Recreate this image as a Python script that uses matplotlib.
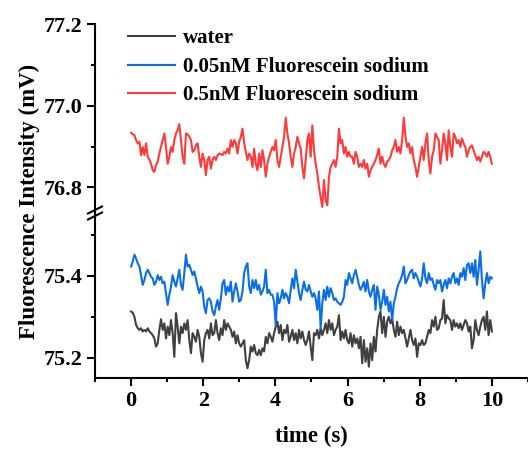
import numpy as np
import matplotlib
matplotlib.use("Agg")
import matplotlib.pyplot as plt
from matplotlib.lines import Line2D
from matplotlib.ticker import MultipleLocator, FormatStrFormatter

plt.rcParams['font.family'] = ['Liberation Serif', 'DejaVu Serif']
plt.rcParams['font.weight'] = 'bold'

water = [
    75.313, 75.310, 75.300, 75.280, 75.272, 75.268, 75.272, 75.264, 75.268, 75.264,
    75.272, 75.264, 75.260, 75.255, 75.247, 75.227, 75.235, 75.268, 75.294, 75.268,
    75.284, 75.247, 75.276, 75.255, 75.292, 75.260, 75.202, 75.309, 75.276, 75.235,
    75.276, 75.260, 75.284, 75.268, 75.292, 75.243, 75.211, 75.260, 75.251, 75.239,
    75.268, 75.251, 75.211, 75.190, 75.243, 75.260, 75.268, 75.247, 75.284, 75.255,
    75.260, 75.292, 75.260, 75.243, 75.272, 75.255, 75.292, 75.268, 75.284, 75.276,
    75.268, 75.251, 75.264, 75.235, 75.255, 75.235, 75.227, 75.235, 75.243, 75.194,
    75.174, 75.194, 75.227, 75.215, 75.231, 75.211, 75.206, 75.219, 75.206, 75.223,
    75.215, 75.251, 75.235, 75.260, 75.251, 75.239, 75.260, 75.276, 75.288, 75.260,
    75.280, 75.243, 75.268, 75.260, 75.280, 75.239, 75.251, 75.268, 75.243, 75.260,
    75.235, 75.268, 75.247, 75.264, 75.243, 75.231, 75.243, 75.264, 75.227, 75.194,
    75.260, 75.255, 75.268, 75.247, 75.272, 75.255, 75.268, 75.284, 75.260, 75.292,
    75.268, 75.284, 75.255, 75.268, 75.276, 75.304, 75.243, 75.264, 75.247, 75.268,
    75.243, 75.235, 75.260, 75.227, 75.255, 75.235, 75.247, 75.223, 75.251, 75.186,
    75.243, 75.190, 75.223, 75.178, 75.235, 75.194, 75.251, 75.215, 75.268, 75.300,
    75.313, 75.260, 75.300, 75.251, 75.288, 75.300, 75.284, 75.296, 75.268, 75.251,
    75.288, 75.255, 75.276, 75.260, 75.268, 75.247, 75.227, 75.247, 75.268, 75.243,
    75.231, 75.247, 75.202, 75.235, 75.231, 75.243, 75.231, 75.235, 75.251, 75.268,
    75.260, 75.292, 75.276, 75.300, 75.268, 75.272, 75.292, 75.296, 75.341, 75.284,
    75.304, 75.296, 75.292, 75.268, 75.292, 75.276, 75.284, 75.272, 75.284, 75.268,
    75.280, 75.292, 75.284, 75.264, 75.276, 75.223, 75.243, 75.292, 75.268, 75.255,
    75.276, 75.292, 75.300, 75.268, 75.313, 75.255, 75.292, 75.264,
]

fs_005 = [
    75.423, 75.435, 75.452, 75.443, 75.431, 75.423, 75.402, 75.378, 75.390, 75.407,
    75.415, 75.407, 75.398, 75.394, 75.378, 75.386, 75.402, 75.390, 75.398, 75.382,
    75.386, 75.358, 75.329, 75.354, 75.374, 75.402, 75.386, 75.374, 75.394, 75.415,
    75.378, 75.366, 75.407, 75.452, 75.423, 75.427, 75.415, 75.402, 75.411, 75.394,
    75.374, 75.358, 75.374, 75.362, 75.325, 75.309, 75.341, 75.345, 75.337, 75.313,
    75.304, 75.325, 75.341, 75.317, 75.345, 75.382, 75.390, 75.354, 75.374, 75.362,
    75.386, 75.337, 75.362, 75.382, 75.362, 75.337, 75.341, 75.362, 75.407, 75.423,
    75.431, 75.374, 75.358, 75.390, 75.370, 75.390, 75.366, 75.378, 75.354, 75.362,
    75.374, 75.415, 75.358, 75.366, 75.354, 75.354, 75.337, 75.280, 75.358, 75.333,
    75.345, 75.366, 75.345, 75.358, 75.349, 75.333, 75.366, 75.394, 75.370, 75.415,
    75.386, 75.358, 75.341, 75.366, 75.386, 75.366, 75.362, 75.378, 75.362, 75.349,
    75.358, 75.345, 75.317, 75.362, 75.272, 75.333, 75.366, 75.341, 75.374, 75.349,
    75.370, 75.358, 75.341, 75.345, 75.337, 75.333, 75.329, 75.337, 75.349, 75.390,
    75.378, 75.407, 75.394, 75.382, 75.402, 75.415, 75.398, 75.378, 75.366, 75.374,
    75.386, 75.362, 75.390, 75.362, 75.349, 75.366, 75.378, 75.317, 75.374, 75.354,
    75.317, 75.337, 75.366, 75.329, 75.349, 75.313, 75.337, 75.292, 75.333, 75.349,
    75.370, 75.382, 75.390, 75.402, 75.423, 75.382, 75.390, 75.402, 75.411, 75.415,
    75.394, 75.407, 75.398, 75.386, 75.374, 75.394, 75.431, 75.394, 75.382, 75.407,
    75.390, 75.394, 75.378, 75.366, 75.390, 75.382, 75.390, 75.362, 75.378, 75.390,
    75.370, 75.394, 75.382, 75.398, 75.407, 75.382, 75.394, 75.378, 75.407, 75.398,
    75.419, 75.390, 75.427, 75.431, 75.407, 75.431, 75.398, 75.439, 75.378, 75.415,
    75.460, 75.390, 75.345, 75.382, 75.407, 75.382, 75.398, 75.394,
]

fs_05 = [
    76.934, 76.930, 76.928, 76.916, 76.908, 76.912, 76.879, 76.899, 76.879, 76.908,
    76.875, 76.868, 76.858, 76.842, 76.838, 76.854, 76.863, 76.883, 76.899, 76.916,
    76.932, 76.899, 76.858, 76.875, 76.899, 76.887, 76.916, 76.932, 76.940, 76.955,
    76.916, 76.875, 76.858, 76.932, 76.930, 76.924, 76.916, 76.887, 76.891, 76.903,
    76.908, 76.875, 76.850, 76.883, 76.867, 76.830, 76.867, 76.875, 76.846, 76.867,
    76.875, 76.867, 76.879, 76.883, 76.881, 76.879, 76.887, 76.883, 76.895, 76.883,
    76.916, 76.899, 76.916, 76.908, 76.883, 76.912, 76.924, 76.944, 76.908, 76.887,
    76.867, 76.883, 76.875, 76.850, 76.895, 76.858, 76.842, 76.883, 76.850, 76.891,
    76.867, 76.826, 76.858, 76.875, 76.887, 76.899, 76.891, 76.916, 76.867, 76.850,
    76.875, 76.899, 76.924, 76.971, 76.932, 76.908, 76.875, 76.850, 76.883, 76.899,
    76.924, 76.908, 76.895, 76.850, 76.822, 76.867, 76.916, 76.932, 76.875, 76.952,
    76.891, 76.858, 76.834, 76.801, 76.777, 76.752, 76.818, 76.769, 76.756, 76.826,
    76.850, 76.858, 76.867, 76.850, 76.875, 76.944, 76.908, 76.916, 76.883, 76.899,
    76.875, 76.887, 76.875, 76.875, 76.858, 76.887, 76.875, 76.850, 76.858, 76.850,
    76.867, 76.846, 76.858, 76.826, 76.842, 76.850, 76.858, 76.867, 76.879, 76.895,
    76.858, 76.875, 76.858, 76.850, 76.863, 76.867, 76.875, 76.891, 76.899, 76.916,
    76.887, 76.899, 76.883, 76.916, 76.971, 76.924, 76.899, 76.908, 76.883, 76.899,
    76.867, 76.850, 76.826, 76.850, 76.875, 76.899, 76.867, 76.908, 76.932, 76.867,
    76.834, 76.875, 76.891, 76.932, 76.924, 76.916, 76.858, 76.891, 76.932, 76.908,
    76.867, 76.940, 76.899, 76.875, 76.932, 76.924, 76.908, 76.916, 76.899, 76.920,
    76.908, 76.899, 76.875, 76.891, 76.899, 76.903, 76.891, 76.879, 76.867, 76.875,
    76.863, 76.875, 76.887, 76.883, 76.875, 76.887, 76.875, 76.858,
]

time = np.linspace(0, 10, len(fs_05))

labels = ["water", "0.05nM Fluorescein sodium", "0.5nM Fluorescein sodium"]
colors = ["#404040", "#0a6fe6", "#ff3a3a"]

fig = plt.figure(figsize=(5.28, 4.49), dpi=100)
left, width = 95 / 528, 1 - 95 / 528
y_break = 1 - 213 / 449
ax_top = fig.add_axes([left, y_break, width, (1 - 24.3 / 449) - y_break])
ax_bot = fig.add_axes([left, 1 - 378.3 / 449, width, y_break - (1 - 378.3 / 449)])

ax_bot.plot(time, water, color=colors[0], lw=1.5)
ax_bot.plot(time, fs_005, color=colors[1], lw=1.5)
ax_top.plot(time, fs_05, color=colors[2], lw=1.5)

ax_top.set_ylim(76.737, 77.2)
ax_bot.set_ylim(75.1495, 75.554)
for ax in (ax_top, ax_bot):
    ax.set_xlim(-1, 11)
    ax.spines['top'].set_visible(False)
    ax.spines['right'].set_visible(False)
    ax.spines['left'].set_linewidth(1.5)
    ax.spines['bottom'].set_linewidth(1.5)
    ax.yaxis.set_major_locator(MultipleLocator(0.2))
    ax.yaxis.set_minor_locator(MultipleLocator(0.1))
    ax.yaxis.set_major_formatter(FormatStrFormatter('%.1f'))
    ax.tick_params(which='major', length=6, width=1.5, labelsize=16, pad=3)
    ax.tick_params(which='minor', length=3, width=1.5)
    ax.patch.set_alpha(0)

ax_top.spines['bottom'].set_visible(False)
ax_top.tick_params(axis='x', which='both', bottom=False, labelbottom=False)
ax_bot.xaxis.set_major_locator(MultipleLocator(2))
ax_bot.xaxis.set_minor_locator(MultipleLocator(1))
ax_bot.set_xlabel("time (s)", fontsize=16.5, fontweight='bold', labelpad=11)
fig.text(0.055, 0.552, "Fluorescence Intensity (mV)", rotation=90, fontsize=16.5,
         fontweight='bold', ha='center', va='center')

# break marks on the left spine
for dy in (-3, 3):
    yc = 213 + dy
    fig.add_artist(Line2D([88 / 528, 102 / 528],
                          [1 - (yc + 3.5) / 449, 1 - (yc - 3.5) / 449],
                          color='black', lw=1.5))

handles = [Line2D([], [], color=c, lw=1.5) for c in colors]
ax_top.legend(handles, labels, loc='upper left', bbox_to_anchor=(120 / 528, 1 - 20 / 449),
              bbox_transform=fig.transFigure, frameon=False, fontsize=15,
              handlelength=2.26, handletextpad=0.38, labelspacing=0.41, borderaxespad=0)

fig.savefig("out.png", dpi=100)
